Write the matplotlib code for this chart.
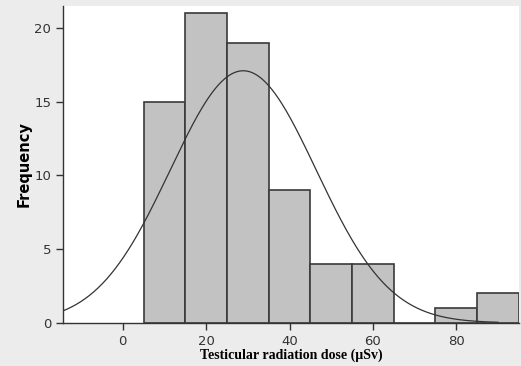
import numpy as np
import matplotlib.pyplot as plt

# Histogram bins (dose, µSv) and counts
bin_edges = [5, 15, 25, 35, 45, 55, 65, 75, 85, 95]
counts = [15, 21, 19, 9, 4, 4, 0, 1, 2]

# Fitted normal curve parameters
mean_dose = 28.9
sd_dose = 17.5
n_total = sum(counts)
bin_width = 10

fig = plt.figure(figsize=(5.21, 3.66), dpi=100, facecolor='#ececec')
ax = fig.add_axes([0.121, 0.118, 0.875, 0.866])

lefts = bin_edges[:-1]
ax.bar(lefts, counts, width=bin_width, align='edge', color='#c2c2c2',
       edgecolor='#3a3a3a', linewidth=1.2, zorder=2)

xs = np.linspace(-14.3, 90, 400)
ys = n_total * bin_width / (sd_dose * np.sqrt(2 * np.pi)) * np.exp(-(xs - mean_dose) ** 2 / (2 * sd_dose ** 2))
ax.plot(xs, ys, color='#333333', linewidth=0.9, zorder=3)

ax.set_xlim(-14.3, 95)
ax.set_ylim(0, 21.5)
ax.set_xticks([0, 20, 40, 60, 80])
ax.set_yticks([0, 5, 10, 15, 20])

for s in ['top', 'right']:
    ax.spines[s].set_visible(False)
for s in ['left', 'bottom']:
    ax.spines[s].set_color('#333333')
    ax.spines[s].set_linewidth(1.0)

ax.tick_params(direction='out', length=5, width=1, colors='#333333',
               labelsize=9.5, labelcolor='#333333')

ax.set_xlabel('Testicular radiation dose (\u00b5Sv)', family='Liberation Serif',
              fontweight='bold', fontsize=10, labelpad=1)
ax.set_ylabel('Frequency', fontweight='bold', fontsize=10.5, labelpad=2)

fig.savefig('out.png', dpi=100, facecolor=fig.get_facecolor())
